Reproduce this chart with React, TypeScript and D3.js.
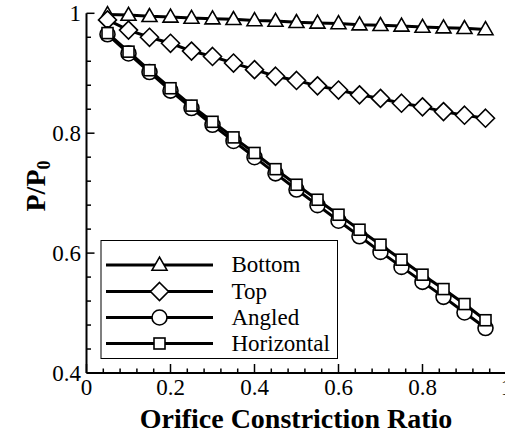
import React from "react";
import * as d3 from "d3";

const xValues = [0.05, 0.1, 0.15, 0.2, 0.25, 0.3, 0.35, 0.4, 0.45, 0.5, 0.55, 0.6, 0.65, 0.7, 0.75, 0.8, 0.85, 0.9, 0.95];
const bottomValues = [0.998, 0.997, 0.995, 0.994, 0.992, 0.991, 0.990, 0.988, 0.987, 0.985, 0.984, 0.983, 0.981, 0.980, 0.979, 0.977, 0.976, 0.975, 0.973];
const topValues = [0.989, 0.972, 0.960, 0.950, 0.937, 0.928, 0.917, 0.906, 0.895, 0.888, 0.879, 0.872, 0.864, 0.858, 0.850, 0.844, 0.836, 0.830, 0.825];
const angledValues = [0.965, 0.933, 0.902, 0.871, 0.842, 0.814, 0.787, 0.760, 0.733, 0.706, 0.680, 0.654, 0.628, 0.602, 0.577, 0.552, 0.527, 0.501, 0.475];
const horizontalValues = [0.967, 0.936, 0.905, 0.875, 0.846, 0.819, 0.793, 0.767, 0.740, 0.714, 0.689, 0.664, 0.639, 0.614, 0.589, 0.564, 0.540, 0.515, 0.488];
const seriesNames = ["Bottom", "Top", "Angled", "Horizontal"];
const seriesShapes = ["triangle", "diamond", "circle", "square"];
const xTickLabels = ["0", "0.2", "0.4", "0.6", "0.8", "1"];
const yTickLabels = ["0.4", "0.6", "0.8", "1"];

const allSeries = [bottomValues, topValues, angledValues, horizontalValues];

function Marker({ shape, cx, cy }: { shape: string; cx: number; cy: number }) {
  const sw = 1.6;
  if (shape === "triangle") {
    const h = 13, w = 15;
    const pts = `${cx},${cy - h * 0.6} ${cx - w / 2},${cy + h * 0.4} ${cx + w / 2},${cy + h * 0.4}`;
    return <polygon points={pts} fill="white" stroke="black" strokeWidth={sw} />;
  }
  if (shape === "diamond") {
    const r = 9;
    const pts = `${cx},${cy - r} ${cx + r},${cy} ${cx},${cy + r} ${cx - r},${cy}`;
    return <polygon points={pts} fill="white" stroke="black" strokeWidth={sw} />;
  }
  if (shape === "circle") {
    return <circle cx={cx} cy={cy} r={7.5} fill="white" stroke="black" strokeWidth={sw} />;
  }
  const s = 11;
  return <rect x={cx - s / 2} y={cy - s / 2} width={s} height={s} fill="white" stroke="black" strokeWidth={sw} />;
}

const serif = { fontFamily: '"Liberation Serif", "DejaVu Serif", serif' };

export default function App() {
  const x = d3.scaleLinear().domain([0, 1]).range([86.5, 506.5]);
  const y = d3.scaleLinear().domain([0.4, 1]).range([373, 13.3]);
  const line = d3
    .line<number>()
    .x((_, i) => x(xValues[i]))
    .y((d) => y(d));

  const xMinor = d3.range(0, 1.0001, 0.04);
  const yMinor = d3.range(0.4, 1.0001, 0.04);

  const legendRows = [265, 291.5, 317.5, 343.5];

  return (
    <svg width={505} height={438} style={{ position: "absolute", left: 0, top: 0, background: "white" }}>
      <rect x={0} y={0} width={505} height={438} fill="white" />
      {allSeries.map((vals, si) => (
        <g key={si}>
          <path d={line(vals) || ""} fill="none" stroke="black" strokeWidth={3} />
          {vals.map((v, i) => (
            <Marker key={i} shape={seriesShapes[si]} cx={x(xValues[i])} cy={y(v)} />
          ))}
        </g>
      ))}
      <line x1={x(0)} x2={505} y1={y(0.4)} y2={y(0.4)} stroke="black" strokeWidth={2} />
      <line x1={x(0)} x2={x(0)} y1={y(0.4)} y2={y(1)} stroke="black" strokeWidth={2} />
      {xMinor.map((t, i) => {
        const major = i % 5 === 0;
        return <line key={"xm" + i} x1={x(t)} x2={x(t)} y1={y(0.4)} y2={y(0.4) - (major ? 9 : 4.5)} stroke="black" strokeWidth={1.5} />;
      })}
      {yMinor.map((t, i) => {
        const major = i % 5 === 0;
        return <line key={"ym" + i} x1={x(0)} x2={x(0) + (major ? 8 : 4.5)} y1={y(t)} y2={y(t)} stroke="black" strokeWidth={1.5} />;
      })}
      {xTickLabels.map((lab, i) => (
        <text key={"xl" + i} x={x(i * 0.2)} y={395} fontSize={23} textAnchor="middle" style={serif}>{lab}</text>
      ))}
      {yTickLabels.map((lab, i) => (
        <text key={"yl" + i} x={81} y={y(0.4 + i * 0.2) + 8} fontSize={23} textAnchor="end" style={serif}>{lab}</text>
      ))}
      <text x={296} y={428} fontSize={28} fontWeight="bold" textAnchor="middle" style={serif}>Orifice Constriction Ratio</text>
      <text transform="translate(45,186) rotate(-90)" fontSize={28} fontWeight="bold" textAnchor="middle" style={serif}>
        P/P<tspan fontSize={18} dy={5}>0</tspan>
      </text>
      <rect x={101} y={240.5} width={236.5} height={118} fill="white" stroke="black" strokeWidth={1} />
      {seriesNames.map((name, i) => (
        <g key={"lg" + i}>
          <line x1={106} x2={213} y1={legendRows[i]} y2={legendRows[i]} stroke="black" strokeWidth={3} />
          <Marker shape={seriesShapes[i]} cx={159.5} cy={legendRows[i]} />
          <text x={231.5} y={legendRows[i] + 7} fontSize={23} style={serif}>{name}</text>
        </g>
      ))}
    </svg>
  );
}
